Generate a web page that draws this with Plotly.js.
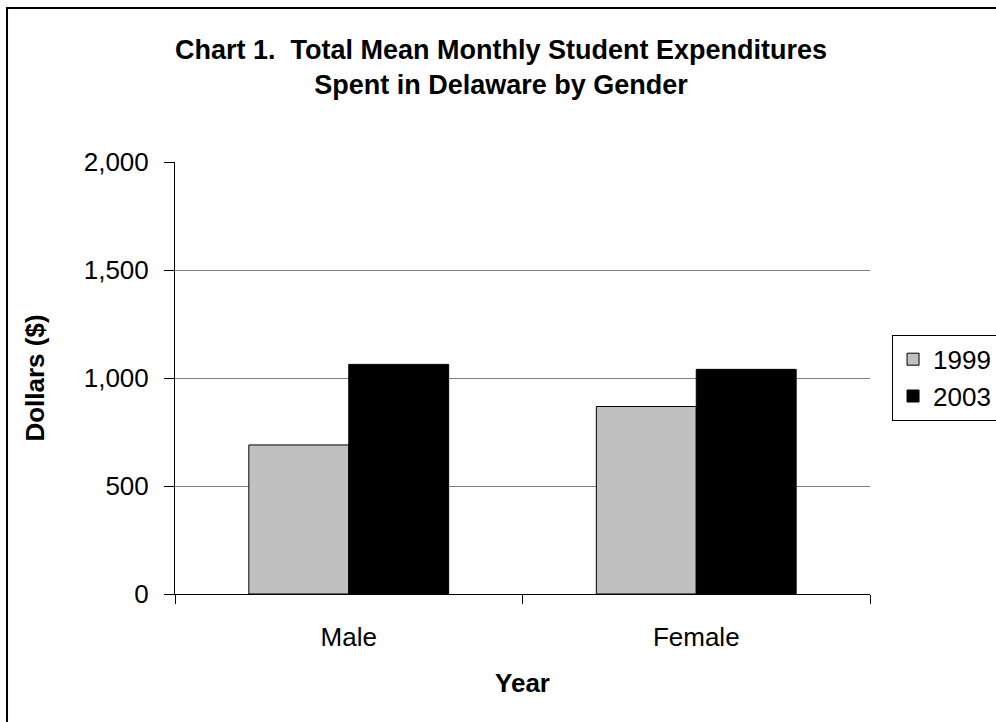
<!DOCTYPE html>
<html>
<head>
<meta charset="utf-8">
<script src="https://cdn.plot.ly/plotly-3.0.1.min.js"></script>
<style>
html,body{margin:0;padding:0;background:#fff;}
#chart{width:996px;height:722px;}
</style>
</head>
<body>
<div id="chart"></div>
<script>
const categories = ["Male", "Female"];
const series1999 = [690, 868];
const series2003 = [1063, 1040];
const yTickVals = [0, 500, 1000, 1500, 2000];
const yTickText = ["0", "500", "1,000", "1,500", "2,000"];

const font = "Liberation Sans, Arial, sans-serif";

const traces = [
  {type: "bar", name: "1999", x: categories, y: series1999,
   marker: {color: "#C0C0C0", line: {color: "#000", width: 1}}},
  {type: "bar", name: "2003", x: categories, y: series2003,
   marker: {color: "#000000", line: {color: "#000", width: 1}}}
];

const layout = {
  width: 996, height: 722,
  margin: {l: 175, r: 126, t: 162, b: 128, autoexpand: false},
  paper_bgcolor: "#fff", plot_bgcolor: "#fff",
  barmode: "group", bargap: 0.425, bargroupgap: 0,
  font: {family: font, color: "#000"},
  title: {text: "<b>Chart 1.  Total Mean Monthly Student Expenditures<br>Spent in Delaware by Gender</b>",
          font: {family: font, size: 27, color: "#000"}, x: 0.503, xanchor: "center",
          y: 0.918, yanchor: "middle"},
  xaxis: {
    title: {text: "<b>Year</b>", font: {family: font, size: 26}, standoff: 22},
    tickfont: {family: font, size: 26},
    showline: true, linecolor: "#000", linewidth: 1,
    ticks: "outside", ticklen: 9, tickcolor: "#000", tickson: "boundaries",
    ticklabelstandoff: 20,
    showgrid: false, fixedrange: true
  },
  yaxis: {
    title: {text: "<b>Dollars ($)</b>", font: {family: font, size: 26}, standoff: 31},
    range: [0, 2000], tickvals: yTickVals, ticktext: yTickText,
    tickfont: {family: font, size: 26},
    showline: true, linecolor: "#000", linewidth: 1,
    ticks: "outside", ticklen: 10, tickcolor: "#000",
    ticklabelstandoff: 10,
    showgrid: true, gridcolor: "#808080", gridwidth: 1,
    zeroline: false, fixedrange: true
  },
  showlegend: true,
  legend: {x: 1.0317, y: 0.6, xanchor: "left", yanchor: "top",
           bordercolor: "#000", borderwidth: 1, bgcolor: "#fff",
           font: {family: font, size: 26}, tracegroupgap: 4, itemwidth: 30},
  shapes: [
    {type: "rect", xref: "paper", yref: "paper",
     x0: -0.2417, x1: 1.5, y0: -0.5, y1: 1.3565,
     line: {color: "#000", width: 2}, fillcolor: "rgba(0,0,0,0)", layer: "below"}
  ]
};

Plotly.newPlot("chart", traces, layout, {displayModeBar: false, staticPlot: true});
</script>
</body>
</html>
